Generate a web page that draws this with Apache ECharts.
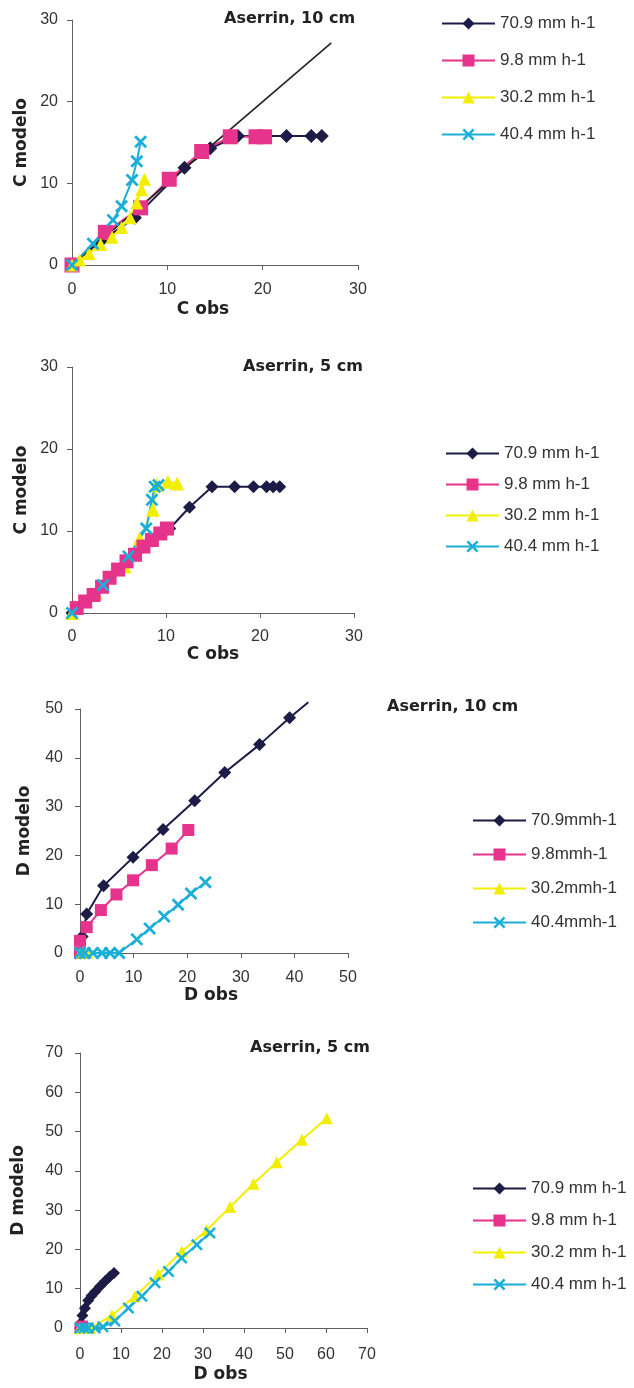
<!DOCTYPE html>
<html><head><meta charset="utf-8">
<script src="https://cdn.jsdelivr.net/npm/echarts@6/dist/echarts.min.js"></script>
<style>html,body{margin:0;padding:0;background:#fff}#c{width:634px;height:1388px}</style>
</head><body><div id="c"></div>
<script>
// ---- labels ----
const namesA = ['70.9 mm h-1', '9.8 mm h-1', '30.2 mm h-1', '40.4 mm h-1'];
const namesB = ['70.9mmh-1', '9.8mmh-1', '30.2mmh-1', '40.4mmh-1'];
const panelTitles = ['Aserrin, 10 cm', 'Aserrin, 5 cm', 'Aserrin, 10 cm', 'Aserrin, 5 cm'];
const xNames = ['C obs', 'C obs', 'D obs', 'D obs'];
const yNames = ['C modelo', 'C modelo', 'D modelo', 'D modelo'];
const axisMax = [30, 30, 50, 70];
const axisStep = 10;

// ---- panel 1: C, Aserrin 10 cm ----
const c10_709 = [[0,0],[3,2.9],[6.6,5.8],[11.8,11.9],[14.5,14.3],[17.4,15.8],[22.5,15.8],[25.1,15.8],[26.2,15.8]];
const c10_98  = [[0,0],[3.5,4.0],[7.2,7.0],[10.2,10.5],[13.6,13.9],[16.6,15.7],[19.3,15.7],[20.2,15.7]];
const c10_302 = [[0,0],[0.8,0.6],[1.8,1.4],[3,2.5],[4.2,3.4],[5.2,4.6],[6.1,5.8],[6.8,7.6],[7.3,9.2],[7.6,10.5]];
const c10_404 = [[0,0],[2.2,2.6],[4.3,5.5],[5.2,7.2],[6.3,10.4],[6.8,12.7],[7.2,15.1]];
const c10_refX = [-1, 27.2];
const c10_refY = [-1, 27.2];

// ---- panel 2: C, Aserrin 5 cm ----
const c5_709 = [[0,0],[10.4,10.3],[12.5,12.9],[14.9,15.4],[17.3,15.4],[19.3,15.4],[20.7,15.4],[21.4,15.4],[22.1,15.4]];
const c5_98  = [[0.5,0.6],[1.4,1.4],[2.3,2.2],[3.2,3.2],[4.0,4.3],[4.9,5.3],[5.8,6.3],[6.7,7.1],[7.6,8.1],[8.5,8.9],[9.4,9.7],[10.1,10.3]];
const c5_302 = [[0,0],[2.5,2.5],[5.6,5.7],[7.2,9.1],[8.6,12.6],[9.0,15.6],[10.2,16.0],[11.2,15.8]];
const c5_404 = [[0,0],[3.3,3.4],[6.0,6.9],[7.9,10.3],[8.5,13.8],[8.8,15.4],[9.2,15.6]];

// ---- panel 3: D, Aserrin 10 cm ----
const d10_709 = [[0,0],[0.4,3.4],[1.25,8.0],[4.4,13.8],[9.9,19.6],[15.5,25.3],[21.4,31.2],[27.0,37.0],[33.5,42.7],[39.1,48.2]];
const d10_709_tail = [42.6, 51.4];
const d10_98  = [[0,0],[0,2.5],[1.25,5.3],[3.9,8.8],[6.8,12.0],[9.9,14.9],[13.4,18.0],[17.1,21.4],[20.2,25.2]];
const d10_302 = [[0,0],[0.5,0],[1,0],[1.5,0]];
const d10_404 = [[0,0],[0.9,0],[2.4,0],[4.1,0],[5.6,0],[7.3,0],[10.6,2.8],[13.0,5.0],[15.7,7.5],[18.3,9.9],[20.7,12.2],[23.4,14.5]];

// ---- panel 4: D, Aserrin 5 cm ----
const d5_709 = [[0,0],[0.2,1.3],[0.6,3.2],[1.2,5.0],[2.0,7.0],[2.8,8.2],[3.7,9.2],[4.9,10.6],[6.1,11.9],[7.3,13.1],[8.3,14.0]];
const d5_98  = [[0,0],[0.3,0.3],[0.6,0.5]];
const d5_302 = [[0,0],[2.5,0],[7.8,3.2],[13.4,8.1],[19.1,13.6],[24.8,19.5],[30.9,24.9],[36.6,30.8],[42.3,36.7],[48.0,42.2],[54.1,47.9],[60.2,53.4]];
const d5_404 = [[0,0],[1,0],[2,0],[3.7,0],[5.6,0.3],[8.5,1.8],[11.8,5.1],[15.1,8.1],[18.3,11.5],[21.6,14.4],[24.8,17.8],[28.5,21.2],[31.7,24.2]];

// ---- styling ----
const COL = ['#1c1c46', '#e6338c', '#f2ee00', '#1aaed8'];
const XSYM = 'path://M0,1.5L1.5,0L5,3.5L8.5,0L10,1.5L6.5,5L10,8.5L8.5,10L5,6.5L1.5,10L0,8.5L3.5,5Z';
const SYM = ['diamond', 'rect', 'triangle', XSYM];

const grids = [
  {left: 72, top: 20, width: 286, height: 245},
  {left: 72, top: 367, width: 282, height: 246},
  {left: 80, top: 709, width: 268, height: 244},
  {left: 80, top: 1053, width: 287, height: 275}
];
const xNameGap = [36, 28, 33, 38];
const xNamePad = [[0,24,0,0],[0,0,0,0],[0,6,0,0],[0,6,0,0]];
const xLabelMargin = [17, 16, 17, 19];
const yNameGap = [42, 42, 47, 53];
const yLabelMargin = [14, 14, 17, 17];

const xAxes = [], yAxes = [];
for (let i = 0; i < 4; i++) {
  const common = {
    type: 'value', gridIndex: i, min: 0, max: axisMax[i], interval: axisStep,
    splitLine: {show: false},
    axisLine: {show: true, onZero: false, lineStyle: {color: '#606060', width: 1}},
    axisTick: {show: true, length: 5, lineStyle: {color: '#606060'}},
    nameLocation: 'middle',
    nameTextStyle: {fontFamily: 'DejaVu Sans', fontWeight: 'bold', fontSize: 17, color: '#222'}
  };
  xAxes.push(Object.assign({}, common, {
    name: xNames[i], nameGap: xNameGap[i],
    nameTextStyle: Object.assign({}, common.nameTextStyle, {padding: xNamePad[i]}),
    axisLabel: {fontFamily: 'Liberation Sans', fontSize: 16, color: '#333', margin: xLabelMargin[i]}
  }));
  yAxes.push(Object.assign({}, common, {
    name: yNames[i], nameGap: yNameGap[i],
    axisLabel: {fontFamily: 'Liberation Sans', fontSize: 16, color: '#333', margin: yLabelMargin[i]}
  }));
}

function mk(name, data, k, size, gi) {
  return {
    type: 'line', name: name, data: data, xAxisIndex: gi, yAxisIndex: gi,
    symbol: SYM[k], symbolSize: size, showSymbol: true, showAllSymbol: true,
    lineStyle: {color: COL[k], width: 2}, itemStyle: {color: COL[k]},
    emphasis: {disabled: true}, silent: true
  };
}

const d10Black = mk(namesB[0], d10_709.concat([{value: d10_709_tail, symbol: 'none'}]), 0, 13, 2);
d10Black.clip = false;

const series = [
  mk(namesA[0], c10_709, 0, 14, 0),
  mk(namesA[1], c10_98, 1, 15, 0),
  {type: 'line', name: 'ref', data: c10_refX.map((v, j) => [v, c10_refY[j]]), xAxisIndex: 0, yAxisIndex: 0,
   symbol: 'none', clip: false, lineStyle: {color: '#222', width: 1.6}, silent: true},
  mk(namesA[2], c10_302, 2, 13, 0),
  mk(namesA[3], c10_404, 3, 13, 0),

  mk(namesA[0], c5_709, 0, 13, 1),
  mk(namesA[2], c5_302, 2, 14, 1),
  mk(namesA[1], c5_98, 1, 14, 1),
  mk(namesA[3], c5_404, 3, 13, 1),

  d10Black,
  mk(namesB[1], d10_98, 1, 12, 2),
  mk(namesB[2], d10_302, 2, 11, 2),
  mk(namesB[3], d10_404, 3, 13, 2),

  mk(namesA[0], d5_709, 0, 12, 3),
  mk(namesA[1], d5_98, 1, 11, 3),
  mk(namesA[2], d5_302, 2, 12, 3),
  mk(namesA[3], d5_404, 3, 12, 3)
];

const legendPos = [
  {left: 436, top: 10, itemGap: 20, data: namesA},
  {left: 440, top: 440, itemGap: 14, data: namesA},
  {left: 467, top: 807, itemGap: 17, data: namesB},
  {left: 467, top: 1175, itemGap: 15, data: namesA}
];
const legends = legendPos.map(p => ({
  orient: 'vertical', left: p.left, top: p.top, itemGap: p.itemGap, data: p.data,
  itemWidth: 53, itemHeight: 15, selectedMode: false,
  textStyle: {fontFamily: 'Liberation Sans', fontSize: 17, color: '#333', lineHeight: 14}
}));

const titlePos = [{left: 224, top: 11}, {left: 243, top: 359}, {left: 387, top: 699}, {left: 250, top: 1040}];
const titles = titlePos.map((p, i) => ({
  text: panelTitles[i], left: p.left, top: p.top, padding: 0,
  textStyle: {fontFamily: 'DejaVu Sans', fontWeight: 'bold', fontSize: 16, color: '#222'}
}));

const chart = echarts.init(document.getElementById('c'), null, {renderer: 'canvas'});
chart.setOption({
  animation: false,
  backgroundColor: '#ffffff',
  title: titles,
  legend: legends,
  grid: grids,
  xAxis: xAxes,
  yAxis: yAxes,
  series: series
});
</script></body></html>
